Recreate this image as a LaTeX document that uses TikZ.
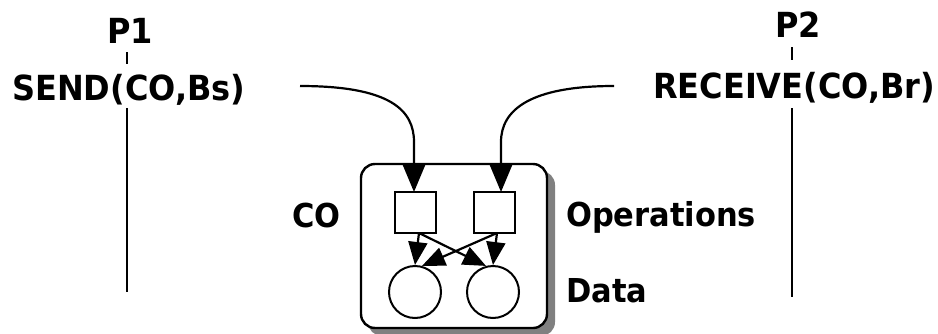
\documentclass[tikz,border=0pt]{standalone}
\usepackage{fontspec}
\setmainfont{DejaVu Sans}
\usetikzlibrary{arrows.meta,calc}
\newcommand{\tallbox}[1]{\scalebox{1}[1.08]{#1}}
\begin{document}
\begin{tikzpicture}[x=1pt,y=-1pt,
  big/.style={font=\fontsize{32}{38}\selectfont\bfseries, inner sep=0pt, anchor=base west},
  small/.style={font=\fontsize{30.5}{36}\selectfont\bfseries, inner sep=0pt, anchor=base west},
  ln/.style={line width=2.4pt},
  arr/.style={line width=2.2pt, arrows={-Triangle[length=27pt,width=22pt]}},
  arrs/.style={line width=2.2pt, arrows={-Triangle[length=23pt,width=19pt]}},
  opbox/.style={draw, line width=2pt, minimum width=41pt, minimum height=41pt, inner sep=0pt},
  datum/.style={draw, circle, line width=2pt, minimum size=52pt, inner sep=0pt}]
\useasboundingbox (0,0) rectangle (938,333);
% processes
\node[big] (p1) at (107,43) {\tallbox{P1}};
\node[big] (send) at (12,100) {\tallbox{SEND(CO,Bs)}};
\node[big] (p2) at (775,37) {\tallbox{P2}};
\node[big] (recv) at (653,98) {\tallbox{RECEIVE(CO,Br)}};
\coordinate (t1a) at (127,52); \coordinate (t1b) at (127,64);
\coordinate (l1a) at (127,108); \coordinate (l1b) at (127,292);
\coordinate (t2a) at (792,47); \coordinate (t2b) at (792,60);
\coordinate (l2a) at (792,108); \coordinate (l2b) at (792,297);
\draw[ln] (t1a) -- (t1b);
\draw[ln] (l1a) -- (l1b);
\draw[ln] (t2a) -- (t2b);
\draw[ln] (l2a) -- (l2b);
% object box with shadow
\fill[black!50, rounded corners=14pt] (368,171) rectangle (555,336);
\draw[line width=2.4pt, fill=white, rounded corners=14pt] (361,164) rectangle (547,328);
\node[opbox] (sq1) at (415.5,212.5) {};
\node[opbox] (sq2) at (494,212.5) {};
\node[datum] (c1) at (415,292) {};
\node[datum] (c2) at (493,292) {};
% labels
\node[small] (co) at (292,227) {\tallbox{CO}};
\node[small] (ops) at (566,226) {\tallbox{Operations}};
\node[small] (data) at (566,302) {\tallbox{Data}};
% incoming arrows
\coordinate (s1) at (300,86);
\coordinate (v1) at (414,142);
\coordinate (e1) at (414,192);
\coordinate (s2) at (614,86);
\coordinate (v2) at (501,142);
\coordinate (e2) at (501,192);
\draw[arr] (s1) .. controls (390,86) and (414,110) .. (v1) -- (e1);
\draw[arr] (s2) .. controls (530,86) and (501,110) .. (v2) -- (e2);
% inner arrows
\coordinate (o1) at (419,233);
\coordinate (o2) at (497,233);
\draw[arrs] (o1) -- (c1.north);
\draw[arrs] (o1) -- (c2.105);
\draw[arrs] (o2) -- (c2.north);
\draw[arrs] (o2) -- (c1.75);
\end{tikzpicture}
\end{document}
